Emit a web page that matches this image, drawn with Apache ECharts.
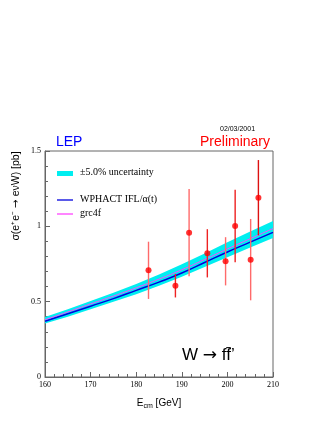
<!DOCTYPE html>
<html>
<head>
<meta charset="utf-8">
<script src="https://cdn.jsdelivr.net/npm/echarts@6/dist/echarts.min.js"></script>
<style>
  html, body { margin: 0; padding: 0; background: #fff; }
  #chart { width: 327px; height: 423px; }
</style>
</head>
<body>
<div id="chart"></div>
<script>
// energies for the theory curves
var curveE = [160, 165, 170, 175, 180, 185, 190, 195, 200, 205, 210];
// WPHACT IFL/alpha(t)
var wphact = [0.37, 0.42, 0.47, 0.52, 0.575, 0.63, 0.69, 0.76, 0.83, 0.895, 0.96];
// grc4f
var grc4f = [0.38, 0.432, 0.485, 0.537, 0.592, 0.65, 0.712, 0.78, 0.85, 0.918, 0.985];
// +-5% uncertainty band
var bandLow = [0.355, 0.40, 0.45, 0.50, 0.55, 0.605, 0.665, 0.73, 0.795, 0.86, 0.922];
var bandHigh = [0.398, 0.45, 0.505, 0.56, 0.618, 0.68, 0.748, 0.82, 0.895, 0.965, 1.035];

// LEP measurements
var dataE = [182.7, 188.6, 191.6, 195.6, 199.6, 201.7, 205.1, 206.8];
var dataSigma = [0.708, 0.606, 0.958, 0.821, 0.768, 1.002, 0.779, 1.19];
var dataErr = [0.19, 0.078, 0.29, 0.16, 0.16, 0.24, 0.27, 0.25];
var errColors = ['#ff6a6a', '#ee2222', '#ff6a6a', '#ee2222', '#ff6a6a', '#ee2222', '#ff6a6a', '#dd1111'];

function pairs(xs, ys) {
    return xs.map(function (x, i) { return [x, ys[i]]; });
}

var serif = '"Liberation Serif", "DejaVu Serif", serif';
var sans = '"Liberation Sans", Arial, sans-serif';
var arrowFont = '"DejaVu Sans", sans-serif';

var option = {
    animation: false,
    grid: {
        left: 45,
        right: 54,
        top: 151,
        bottom: 46,
        show: true,
        borderColor: '#666',
        borderWidth: 1
    },
    xAxis: {
        type: 'value',
        min: 160,
        max: 210,
        interval: 10,
        name: '{e|E}{s|cm} [GeV]',
        nameLocation: 'middle',
        nameGap: 20,
        nameTextStyle: {
            fontFamily: sans,
            fontSize: 10,
            color: '#000',
            rich: {
                e: { fontFamily: sans, fontSize: 10, color: '#000' },
                s: { fontFamily: sans, fontSize: 7, color: '#000', verticalAlign: 'bottom', padding: [6, 0, 0, 0] }
            }
        },
        axisLine: { lineStyle: { color: '#666' } },
        axisTick: { inside: true, length: 5, lineStyle: { color: '#666' } },
        minorTick: { show: true, splitNumber: 5, length: 3, lineStyle: { color: '#666' } },
        axisLabel: { fontFamily: serif, fontSize: 8, color: '#000', margin: 4 },
        splitLine: { show: false }
    },
    yAxis: {
        type: 'value',
        min: 0,
        max: 1.5,
        interval: 0.5,
        axisLine: { lineStyle: { color: '#666' } },
        axisTick: { inside: true, length: 5, lineStyle: { color: '#666' } },
        minorTick: { show: true, splitNumber: 5, length: 3, lineStyle: { color: '#666' } },
        axisLabel: { fontFamily: serif, fontSize: 8, color: '#000', margin: 4 },
        splitLine: { show: false }
    },
    series: [
        {
            name: 'band',
            type: 'custom',
            renderItem: function (params, api) {
                var pts = [];
                curveE.forEach(function (x, i) { pts.push(api.coord([x, bandHigh[i]])); });
                for (var i = curveE.length - 1; i >= 0; i--) { pts.push(api.coord([curveE[i], bandLow[i]])); }
                return {
                    type: 'polygon',
                    shape: { points: pts, smooth: 0 },
                    style: { fill: '#00eef0' }
                };
            },
            data: [[curveE[0], bandLow[0]]],
            z: 1
        },
        {
            name: 'WPHACT',
            type: 'line',
            symbol: 'none',
            smooth: true,
            lineStyle: { color: '#0000dd', width: 1.5 },
            data: pairs(curveE, wphact),
            z: 2
        },
        {
            name: 'grc4f',
            type: 'line',
            symbol: 'none',
            smooth: true,
            lineStyle: { color: '#ff44ff', width: 1 },
            data: pairs(curveE, grc4f),
            z: 3
        },
        {
            name: 'errors',
            type: 'custom',
            renderItem: function (params, api) {
                var x = api.value(0), y = api.value(1), e = api.value(2);
                var p1 = api.coord([x, y - e]);
                var p2 = api.coord([x, y + e]);
                return {
                    type: 'line',
                    shape: { x1: p1[0], y1: p1[1], x2: p2[0], y2: p2[1] },
                    style: { stroke: errColors[params.dataIndex], lineWidth: 1.4 }
                };
            },
            encode: { x: 0, y: 1 },
            data: dataE.map(function (x, i) { return [x, dataSigma[i], dataErr[i]]; }),
            z: 5
        },
        {
            name: 'LEP',
            type: 'scatter',
            symbol: 'circle',
            symbolSize: 6,
            itemStyle: { color: '#ff0000' },
            data: pairs(dataE, dataSigma),
            z: 6
        }
    ],
    graphic: [
        // y axis title, right-aligned to the top of the axis as in the original
        {
            type: 'text', x: 16, y: 196, rotation: Math.PI / 2,
            style: {
                text: 'σ(e⁺e⁻ {a|→} eνW) [pb]',
                fontFamily: sans, fontSize: 10.5, fill: '#000',
                align: 'center', verticalAlign: 'middle',
                rich: { a: { fontFamily: arrowFont, fontSize: 10.5, fill: '#000' } }
            }
        },
        { type: 'text', left: 220, top: 126, style: { text: '02/03/2001', fontFamily: sans, fontSize: 7, fill: '#000' } },
        { type: 'text', left: 56, top: 135, style: { text: 'LEP', fontFamily: sans, fontSize: 14, fill: '#0000ff' } },
        { type: 'text', left: 200, top: 135, style: { text: 'Preliminary', fontFamily: sans, fontSize: 14, fill: '#ff0000' } },
        { type: 'rect', shape: { x: 57, y: 171, width: 16, height: 5 }, style: { fill: '#00eef0' } },
        { type: 'text', left: 80, top: 167, style: { text: '±5.0% uncertainty', fontFamily: serif, fontSize: 10, fill: '#000' } },
        { type: 'line', shape: { x1: 57, y1: 200, x2: 73, y2: 200 }, style: { stroke: '#0000dd', lineWidth: 1.3 } },
        { type: 'text', left: 80, top: 194, style: { text: 'WPHACT IFL/α(t)', fontFamily: serif, fontSize: 10, fill: '#000' } },
        { type: 'line', shape: { x1: 57, y1: 214, x2: 73, y2: 214 }, style: { stroke: '#ff44ff', lineWidth: 1.3 } },
        { type: 'text', left: 80, top: 208, style: { text: 'grc4f', fontFamily: serif, fontSize: 10, fill: '#000' } },
        {
            type: 'text', left: 182, top: 347,
            style: {
                text: 'W {a|→} ff̄\u2019',
                fontFamily: sans, fontSize: 17, fill: '#000',
                rich: { a: { fontFamily: arrowFont, fontSize: 17, fill: '#000' } }
            }
        }
    ]
};

var chart = echarts.init(document.getElementById('chart'));
chart.setOption(option);
</script>
</body>
</html>
